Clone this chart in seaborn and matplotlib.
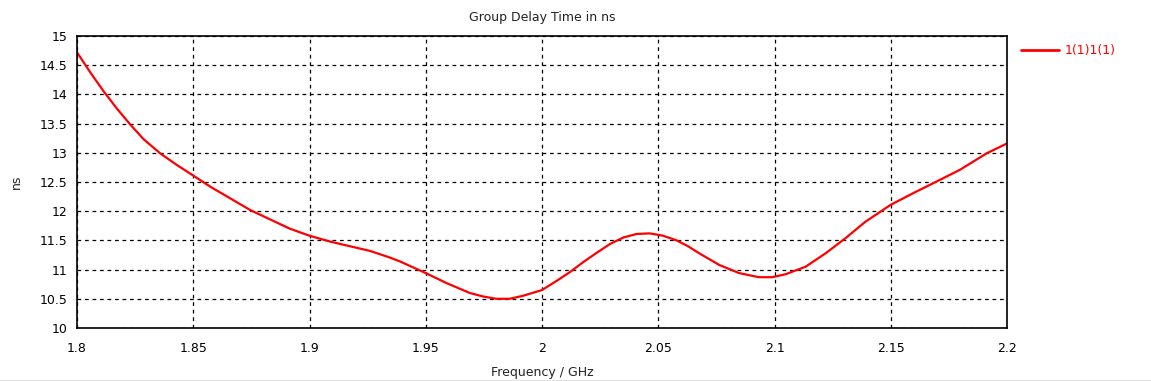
import matplotlib
matplotlib.use("Agg")
import matplotlib.pyplot as plt
import seaborn as sns
import pandas as pd
from matplotlib.lines import Line2D

freq_ghz = [1.8, 1.806, 1.8115, 1.8173, 1.823, 1.8287, 1.8358, 1.843, 1.85, 1.8573,
            1.8659, 1.8745, 1.883, 1.8916, 1.9, 1.9088, 1.9174, 1.926, 1.9343, 1.9389,
            1.95, 1.9589, 1.9689, 1.9746, 1.9803, 1.986, 1.9917, 2.0, 2.0064, 2.0121,
            2.0178, 2.0236, 2.0293, 2.035, 2.0407, 2.0464, 2.0521, 2.0579, 2.0628, 2.0676,
            2.0762, 2.0848, 2.0933, 2.099, 2.1047, 2.1134, 2.122, 2.1306, 2.1391, 2.15,
            2.1597, 2.1683, 2.1798, 2.1912, 2.2]
delay_ns = [14.72, 14.36, 14.05, 13.75, 13.48, 13.23, 12.99, 12.79, 12.61, 12.42,
            12.22, 12.02, 11.86, 11.70, 11.58, 11.48, 11.40, 11.32, 11.21, 11.14,
            10.94, 10.77, 10.60, 10.54, 10.50, 10.50, 10.55, 10.65, 10.81, 10.96,
            11.13, 11.29, 11.44, 11.55, 11.61, 11.62, 11.58, 11.50, 11.40, 11.28,
            11.08, 10.94, 10.87, 10.87, 10.92, 11.05, 11.28, 11.54, 11.82, 12.11,
            12.31, 12.48, 12.71, 12.99, 13.16]
series_name = "1(1)1(1)"
x_ticks = [1.8, 1.85, 1.9, 1.95, 2.0, 2.05, 2.1, 2.15, 2.2]
x_tick_labels = ["1.8", "1.85", "1.9", "1.95", "2", "2.05", "2.1", "2.15", "2.2"]
y_ticks = [10, 10.5, 11, 11.5, 12, 12.5, 13, 13.5, 14, 14.5, 15]
y_tick_labels = ["10", "10.5", "11", "11.5", "12", "12.5", "13", "13.5", "14", "14.5", "15"]

df = pd.DataFrame({"Frequency": freq_ghz, "Delay": delay_ns, "Series": series_name})

sns.set_theme(style="white")
plt.rcParams["font.family"] = ["DejaVu Sans"]

W, H = 1151, 381
fig = plt.figure(figsize=(W / 100, H / 100), dpi=100)
ax = fig.add_axes([77 / W, 1 - 328 / H, (1007 - 77) / W, (328 - 36) / H])

sns.lineplot(data=df, x="Frequency", y="Delay", hue="Series", palette=["#ff0000"],
             linewidth=1.6, ax=ax, legend=False)
for ln in ax.lines:
    ln.set_solid_joinstyle("round")

ax.set_xlim(1.8, 2.2)
ax.set_ylim(10, 15)
ax.set_xticks(x_ticks)
ax.set_xticklabels(x_tick_labels)
ax.set_yticks(y_ticks)
ax.set_yticklabels(y_tick_labels)
ax.tick_params(axis="both", direction="out", length=4, width=1, color="black",
               labelsize=9, labelcolor="black", pad=3)
ax.tick_params(axis="x", pad=6)
ax.grid(True, color="black", linestyle=(0, (3, 3)), linewidth=0.9)
for s in ax.spines.values():
    s.set_color("black")
    s.set_linewidth(1.2)
    s.set_visible(True)

ax.set_xlabel("Frequency / GHz", fontsize=9, color="#222222", labelpad=8)
ax.set_ylabel("ns", fontsize=9, color="#222222", labelpad=12)
ax.set_title("Group Delay Time in ns", fontsize=9, color="#222222", pad=11)

# legend at right
handle = Line2D([0], [0], color="#ff0000", linewidth=2)
leg = fig.legend([handle], [series_name], loc="upper left",
                 bbox_to_anchor=(1010 / W, 1 - 33 / H), frameon=False,
                 fontsize=9, handlelength=3.0, handletextpad=0.5)
for t in leg.get_texts():
    t.set_color("#ff0000")

# bottom separator line
fig.add_artist(Line2D([0, 1], [0.5 / H, 0.5 / H], color="#e3e3e3", linewidth=1.5,
                      transform=fig.transFigure))

fig.savefig("out.png", dpi=100, facecolor="white")
